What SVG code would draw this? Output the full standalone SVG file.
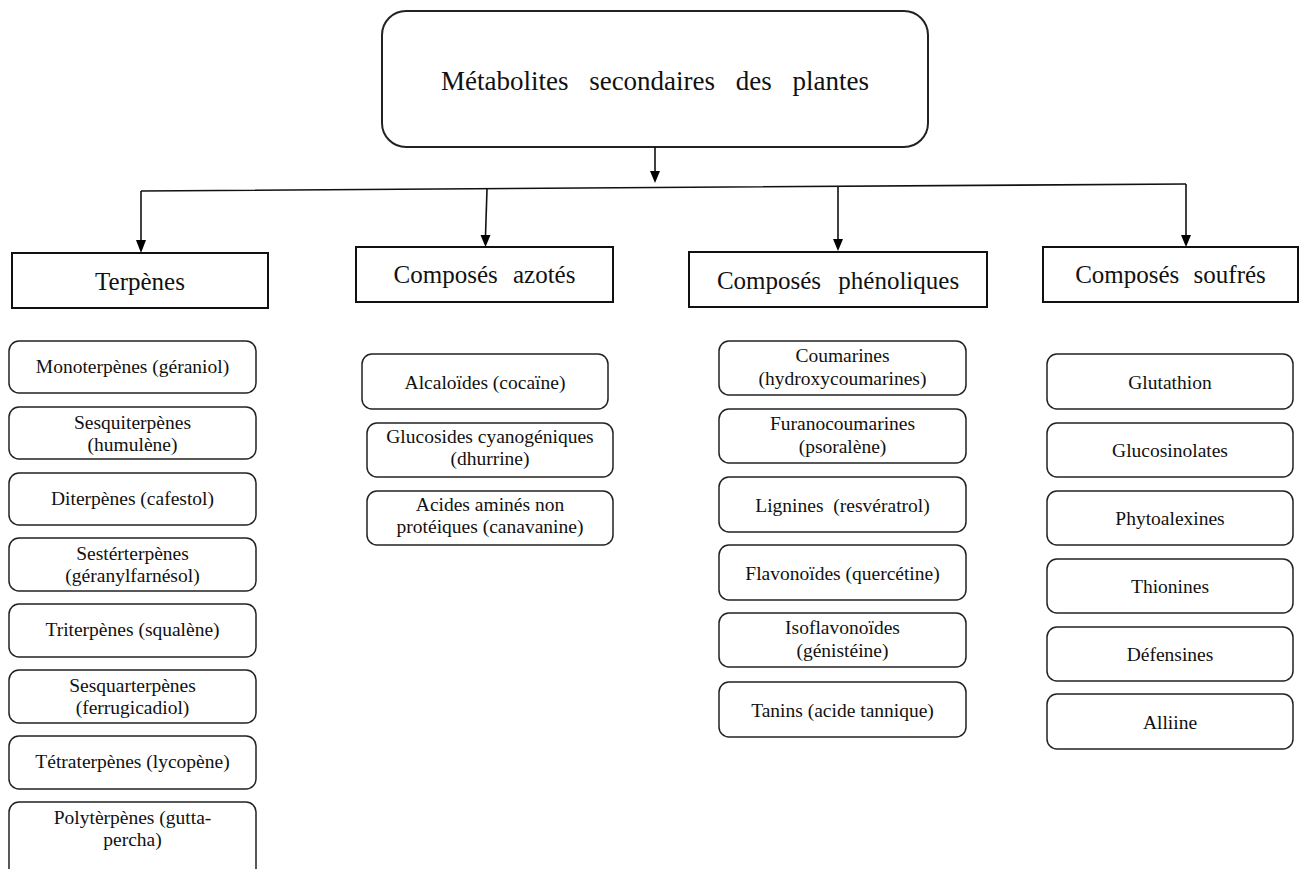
<svg xmlns="http://www.w3.org/2000/svg" width="1301" height="869" viewBox="0 0 1301 869">
<style>
.t{font-family:'Liberation Serif',serif;fill:#111;text-anchor:middle}
.s{font-size:19.5px}
.h{font-size:25px}
.main{fill:#fff;stroke:#222;stroke-width:2}
.cat{fill:#fff;stroke:#111;stroke-width:2}
.item{fill:#fff;stroke:#222;stroke-width:1.5}
.c{fill:none;stroke:#111;stroke-width:1.6}
.head{fill:#000}
</style>
<rect width="1301" height="869" fill="#fff"/>

<g id="main">
<rect class="main" x="382" y="11" width="546" height="136" rx="24"/>
<text class="t" x="655" y="90" style="font-family:'Liberation Serif',serif;font-size:27px;word-spacing:14px">Métabolites secondaires des plantes</text>
</g>

<g id="connectors">
<line class="c" x1="655" y1="147" x2="655" y2="172"/>
<path class="head" d="M650,171 L660,171 L655,183 Z"/>
<polyline class="c" points="141,191 655,187.5 1186,184"/>
<line class="c" x1="141" y1="191" x2="141" y2="241"/>
<path class="head" d="M136,240 L146,240 L141,253 Z"/>
<line class="c" x1="487" y1="189" x2="485.5" y2="236"/>
<path class="head" d="M480.5,235 L490.5,235 L485.5,247 Z"/>
<line class="c" x1="838" y1="187" x2="838" y2="240"/>
<path class="head" d="M833,239 L843,239 L838,251 Z"/>
<line class="c" x1="1186" y1="184" x2="1186" y2="236"/>
<path class="head" d="M1181,235 L1191,235 L1186,247 Z"/>
</g>

<g id="terpenes">
<rect class="cat" x="12" y="253" width="256" height="55"/>
<text class="t h" x="140" y="290" style="font-family:'Liberation Serif',serif">Terpènes</text>
</g>
<g id="azotes">
<rect class="cat" x="356" y="247" width="257" height="55"/>
<text class="t h" x="484.5" y="283" style="font-family:'Liberation Serif',serif;word-spacing:9px">Composés azotés</text>
</g>
<g id="phenoliques">
<rect class="cat" x="689" y="252" width="298" height="55"/>
<text class="t h" x="838" y="289" style="font-family:'Liberation Serif',serif;word-spacing:11px">Composés phénoliques</text>
</g>
<g id="soufres">
<rect class="cat" x="1043" y="247" width="255" height="55"/>
<text class="t h" x="1170.5" y="283" style="font-family:'Liberation Serif',serif;word-spacing:8px">Composés soufrés</text>
</g>

<g id="t1"><rect class="item" x="9" y="341" width="247" height="52" rx="10"/><text class="t s" x="132.5" y="373" style="font-family:'Liberation Serif',serif">Monoterpènes (géraniol)</text></g>
<g id="t2"><rect class="item" x="9" y="407" width="247" height="52" rx="10"/><text class="t s" x="132.5" y="429" style="font-family:'Liberation Serif',serif">Sesquiterpènes</text><text class="t s" x="132.5" y="451" style="font-family:'Liberation Serif',serif">(humulène)</text></g>
<g id="t3"><rect class="item" x="9" y="473" width="247" height="52" rx="10"/><text class="t s" x="132.5" y="505" style="font-family:'Liberation Serif',serif">Diterpènes (cafestol)</text></g>
<g id="t4"><rect class="item" x="9" y="538" width="247" height="53" rx="10"/><text class="t s" x="132.5" y="560" style="font-family:'Liberation Serif',serif">Sestérterpènes</text><text class="t s" x="132.5" y="582" style="font-family:'Liberation Serif',serif">(géranylfarnésol)</text></g>
<g id="t5"><rect class="item" x="9" y="604" width="247" height="53" rx="10"/><text class="t s" x="132.5" y="636" style="font-family:'Liberation Serif',serif">Triterpènes (squalène)</text></g>
<g id="t6"><rect class="item" x="9" y="670" width="247" height="53" rx="10"/><text class="t s" x="132.5" y="692" style="font-family:'Liberation Serif',serif">Sesquarterpènes</text><text class="t s" x="132.5" y="714" style="font-family:'Liberation Serif',serif">(ferrugicadiol)</text></g>
<g id="t7"><rect class="item" x="9" y="736" width="247" height="53" rx="10"/><text class="t s" x="132.5" y="768" style="font-family:'Liberation Serif',serif">Tétraterpènes (lycopène)</text></g>
<g id="t8"><rect class="item" x="9" y="802" width="247" height="80" rx="10"/><text class="t s" x="132.5" y="824" style="font-family:'Liberation Serif',serif">Polytèrpènes (gutta-</text><text class="t s" x="132.5" y="846" style="font-family:'Liberation Serif',serif">percha)</text></g>

<g id="a1"><rect class="item" x="362" y="354" width="246" height="55" rx="10"/><text class="t s" x="485" y="389" style="font-family:'Liberation Serif',serif">Alcaloïdes (cocaïne)</text></g>
<g id="a2"><rect class="item" x="367" y="423" width="246" height="54" rx="10"/><text class="t s" x="490" y="443" style="font-family:'Liberation Serif',serif">Glucosides cyanogéniques</text><text class="t s" x="490" y="465" style="font-family:'Liberation Serif',serif">(dhurrine)</text></g>
<g id="a3"><rect class="item" x="367" y="491" width="246" height="54" rx="10"/><text class="t s" x="490" y="511" style="font-family:'Liberation Serif',serif">Acides aminés non</text><text class="t s" x="490" y="533" style="font-family:'Liberation Serif',serif">protéiques (canavanine)</text></g>

<g id="p1"><rect class="item" x="719" y="341" width="247" height="54" rx="10"/><text class="t s" x="842.5" y="362" style="font-family:'Liberation Serif',serif">Coumarines</text><text class="t s" x="842.5" y="385" style="font-family:'Liberation Serif',serif">(hydroxycoumarines)</text></g>
<g id="p2"><rect class="item" x="719" y="409" width="247" height="54" rx="10"/><text class="t s" x="842.5" y="430" style="font-family:'Liberation Serif',serif">Furanocoumarines</text><text class="t s" x="842.5" y="453" style="font-family:'Liberation Serif',serif">(psoralène)</text></g>
<g id="p3"><rect class="item" x="719" y="477" width="247" height="55" rx="10"/><text class="t s" x="842.5" y="512" style="font-family:'Liberation Serif',serif;word-spacing:5px">Lignines (resvératrol)</text></g>
<g id="p4"><rect class="item" x="719" y="545" width="247" height="55" rx="10"/><text class="t s" x="842.5" y="580" style="font-family:'Liberation Serif',serif">Flavonoïdes (quercétine)</text></g>
<g id="p5"><rect class="item" x="719" y="613" width="247" height="54" rx="10"/><text class="t s" x="842.5" y="634" style="font-family:'Liberation Serif',serif">Isoflavonoïdes</text><text class="t s" x="842.5" y="657" style="font-family:'Liberation Serif',serif">(génistéine)</text></g>
<g id="p6"><rect class="item" x="719" y="682" width="247" height="55" rx="10"/><text class="t s" x="842.5" y="717" style="font-family:'Liberation Serif',serif">Tanins (acide tannique)</text></g>

<g id="s1"><rect class="item" x="1047" y="354" width="246" height="55" rx="10"/><text class="t s" x="1170" y="389" style="font-family:'Liberation Serif',serif">Glutathion</text></g>
<g id="s2"><rect class="item" x="1047" y="423" width="246" height="54" rx="10"/><text class="t s" x="1170" y="457" style="font-family:'Liberation Serif',serif">Glucosinolates</text></g>
<g id="s3"><rect class="item" x="1047" y="491" width="246" height="54" rx="10"/><text class="t s" x="1170" y="525" style="font-family:'Liberation Serif',serif">Phytoalexines</text></g>
<g id="s4"><rect class="item" x="1047" y="559" width="246" height="54" rx="10"/><text class="t s" x="1170" y="593" style="font-family:'Liberation Serif',serif">Thionines</text></g>
<g id="s5"><rect class="item" x="1047" y="627" width="246" height="54" rx="10"/><text class="t s" x="1170" y="661" style="font-family:'Liberation Serif',serif">Défensines</text></g>
<g id="s6"><rect class="item" x="1047" y="694" width="246" height="55" rx="10"/><text class="t s" x="1170" y="729" style="font-family:'Liberation Serif',serif">Alliine</text></g>
</svg>
